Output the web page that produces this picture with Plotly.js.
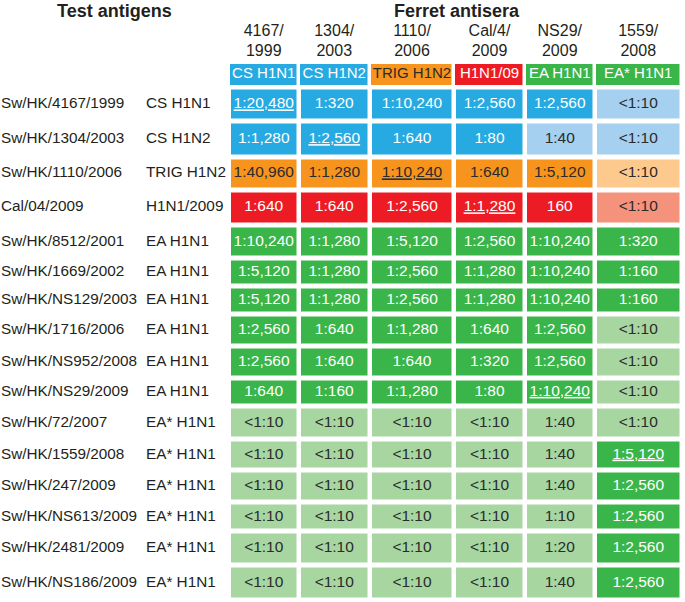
<!DOCTYPE html>
<html><head><meta charset="utf-8">
<script src="https://cdn.plot.ly/plotly-3.0.1.min.js"></script>
<style>html,body{margin:0;padding:0;background:#fff}</style>
</head><body><div id="chart" style="width:685px;height:602px"></div>
<script>
// ---------- data ----------
const strains = ['Sw/HK/4167/1999','Sw/HK/1304/2003','Sw/HK/1110/2006','Cal/04/2009','Sw/HK/8512/2001',
  'Sw/HK/1669/2002','Sw/HK/NS129/2003','Sw/HK/1716/2006','Sw/HK/NS952/2008','Sw/HK/NS29/2009',
  'Sw/HK/72/2007','Sw/HK/1559/2008','Sw/HK/247/2009','Sw/HK/NS613/2009','Sw/HK/2481/2009','Sw/HK/NS186/2009'];
const subtypes = ['CS H1N1','CS H1N2','TRIG H1N2','H1N1/2009','EA H1N1','EA H1N1','EA H1N1','EA H1N1','EA H1N1','EA H1N1',
  'EA* H1N1','EA* H1N1','EA* H1N1','EA* H1N1','EA* H1N1','EA* H1N1'];
const antiseraTop = ['4167/','1304/','1110/','Cal/4/','NS29/','1559/'];
const antiseraBottom = ['1999','2003','2006','2009','2009','2008'];
const antiseraTypes = ['CS H1N1','CS H1N2','TRIG H1N2','H1N1/09','EA H1N1','EA* H1N1'];
const titres = [
  ['1:20,480','1:320','1:10,240','1:2,560','1:2,560','<1:10'],
  ['1:1,280','1:2,560','1:640','1:80','1:40','<1:10'],
  ['1:40,960','1:1,280','1:10,240','1:640','1:5,120','<1:10'],
  ['1:640','1:640','1:2,560','1:1,280','160','<1:10'],
  ['1:10,240','1:1,280','1:5,120','1:2,560','1:10,240','1:320'],
  ['1:5,120','1:1,280','1:2,560','1:1,280','1:10,240','1:160'],
  ['1:5,120','1:1,280','1:2,560','1:1,280','1:10,240','1:160'],
  ['1:2,560','1:640','1:1,280','1:640','1:2,560','<1:10'],
  ['1:2,560','1:640','1:640','1:320','1:2,560','<1:10'],
  ['1:640','1:160','1:1,280','1:80','1:10,240','<1:10'],
  ['<1:10','<1:10','<1:10','<1:10','1:40','<1:10'],
  ['<1:10','<1:10','<1:10','<1:10','1:40','1:5,120'],
  ['<1:10','<1:10','<1:10','<1:10','1:40','1:2,560'],
  ['<1:10','<1:10','<1:10','<1:10','1:10','1:2,560'],
  ['<1:10','<1:10','<1:10','<1:10','1:20','1:2,560'],
  ['<1:10','<1:10','<1:10','<1:10','1:40','1:2,560']
];
// homologous titres (underlined): [row, column]
const homologous = [[0,0],[1,1],[2,2],[3,3],[9,4],[11,5]];
// cell tone: B blue, LB light blue, O orange, LO light orange, R red, S salmon, G green, LG light green
const cellTone = [
  ['B','B','B','B','B','LB'],
  ['B','B','B','B','LB','LB'],
  ['O','O','O','O','O','LO'],
  ['R','R','R','R','R','S'],
  ['G','G','G','G','G','G'],
  ['G','G','G','G','G','G'],
  ['G','G','G','G','G','G'],
  ['G','G','G','G','G','LG'],
  ['G','G','G','G','G','LG'],
  ['G','G','G','G','G','LG'],
  ['LG','LG','LG','LG','LG','LG'],
  ['LG','LG','LG','LG','LG','G'],
  ['LG','LG','LG','LG','LG','G'],
  ['LG','LG','LG','LG','LG','G'],
  ['LG','LG','LG','LG','LG','G'],
  ['LG','LG','LG','LG','LG','G']
];
const headerTone = ['B','B','O','R','G','G'];

// ---------- layout / style ----------
const W = 685, H = 602;
const colEdges = [229, 298.5, 370, 454, 525, 594.5, 682];
const rowEdges = [87.5, 121.5, 157, 190, 225, 258.5, 286.5, 314, 346.5, 378, 406, 439.5, 470, 502.5, 531.3, 565.5, 600.5];
const headerEdges = [64, 84.5];
const toneOrder = ['B','LB','O','LO','R','S','G','LG'];
const palette = {B:'#27aae1', LB:'#a5d0ef', O:'#f7941d', LO:'#fdc98c', R:'#ed1c24', S:'#f4927b', G:'#3ab54a', LG:'#a7d6a1'};
const darkText = {LB:true, O:true, LO:true, S:true, LG:true};
const ink = '#231f20';
const FONT = 'Liberation Sans, Arial, Helvetica, sans-serif';

const colorscale = toneOrder.map((t,i)=>[i/(toneOrder.length-1), palette[t]]);
const mid = e => e.slice(0,-1).map((v,i)=>(v+e[i+1])/2);
const colMid = mid(colEdges), rowMid = mid(rowEdges);

const cellZ = cellTone.map(r=>r.map(t=>toneOrder.indexOf(t)));
const headZ = [headerTone.map(t=>toneOrder.indexOf(t))];

const tx=[], ty=[], tt=[], tc=[];
titres.forEach((row,i)=>row.forEach((v,j)=>{
  const hom = homologous.some(h=>h[0]===i && h[1]===j);
  tx.push(colMid[j]); ty.push(rowMid[i]);
  tt.push(hom ? '<span style="text-decoration:underline">'+v+'</span>' : v);
  tc.push(darkText[cellTone[i][j]] ? '#2b2b2b' : '#ffffff');
}));

const traces = [
  {type:'heatmap', x:colEdges, y:rowEdges, z:cellZ, colorscale:colorscale, zmin:0, zmax:toneOrder.length-1,
   xgap:4.5, ygap:5, showscale:false, hoverinfo:'skip'},
  {type:'heatmap', x:colEdges, y:headerEdges, z:headZ, colorscale:colorscale, zmin:0, zmax:toneOrder.length-1,
   xgap:3.5, ygap:0, showscale:false, hoverinfo:'skip'},
  {type:'scatter', mode:'text', x:tx, y:ty, text:tt, textposition:'middle center',
   textfont:{family:FONT, size:15.5, color:tc}, hoverinfo:'skip', cliponaxis:false},
  {type:'scatter', mode:'text', x:colMid, y:colMid.map(()=>(headerEdges[0]+headerEdges[1])/2), text:antiseraTypes,
   textposition:'middle center', textfont:{family:FONT, size:15, color:headerTone.map(t=>darkText[t]?'#2b2b2b':'#ffffff')},
   hoverinfo:'skip', cliponaxis:false},
  {type:'scatter', mode:'text', x:colMid, y:colMid.map(()=>32), text:antiseraTop, textposition:'middle center',
   textfont:{family:FONT, size:16, color:ink}, hoverinfo:'skip', cliponaxis:false},
  {type:'scatter', mode:'text', x:colMid, y:colMid.map(()=>52), text:antiseraBottom, textposition:'middle center',
   textfont:{family:FONT, size:16, color:ink}, hoverinfo:'skip', cliponaxis:false},
  {type:'scatter', mode:'text', x:strains.map(()=>1), y:rowMid, text:strains, textposition:'middle right',
   textfont:{family:FONT, size:15.3, color:ink}, hoverinfo:'skip', cliponaxis:false},
  {type:'scatter', mode:'text', x:subtypes.map(()=>146), y:rowMid, text:subtypes, textposition:'middle right',
   textfont:{family:FONT, size:15.3, color:ink}, hoverinfo:'skip', cliponaxis:false}
];

const layout = {
  width:W, height:H, margin:{l:0,r:0,t:0,b:0}, showlegend:false,
  paper_bgcolor:'#ffffff', plot_bgcolor:'#ffffff',
  xaxis:{range:[0,W], visible:false, fixedrange:true},
  yaxis:{range:[H,0], visible:false, fixedrange:true},
  font:{family:FONT, color:ink},
  annotations:[
    {x:114, y:11, xref:'x', yref:'y', text:'<b>Test antigens</b>', showarrow:false, font:{family:FONT, size:18, color:ink}},
    {x:457, y:11, xref:'x', yref:'y', text:'<b>Ferret antisera</b>', showarrow:false, font:{family:FONT, size:18, color:ink}}
  ]
};
Plotly.newPlot('chart', traces, layout, {displayModeBar:false, staticPlot:true});
</script></body></html>
